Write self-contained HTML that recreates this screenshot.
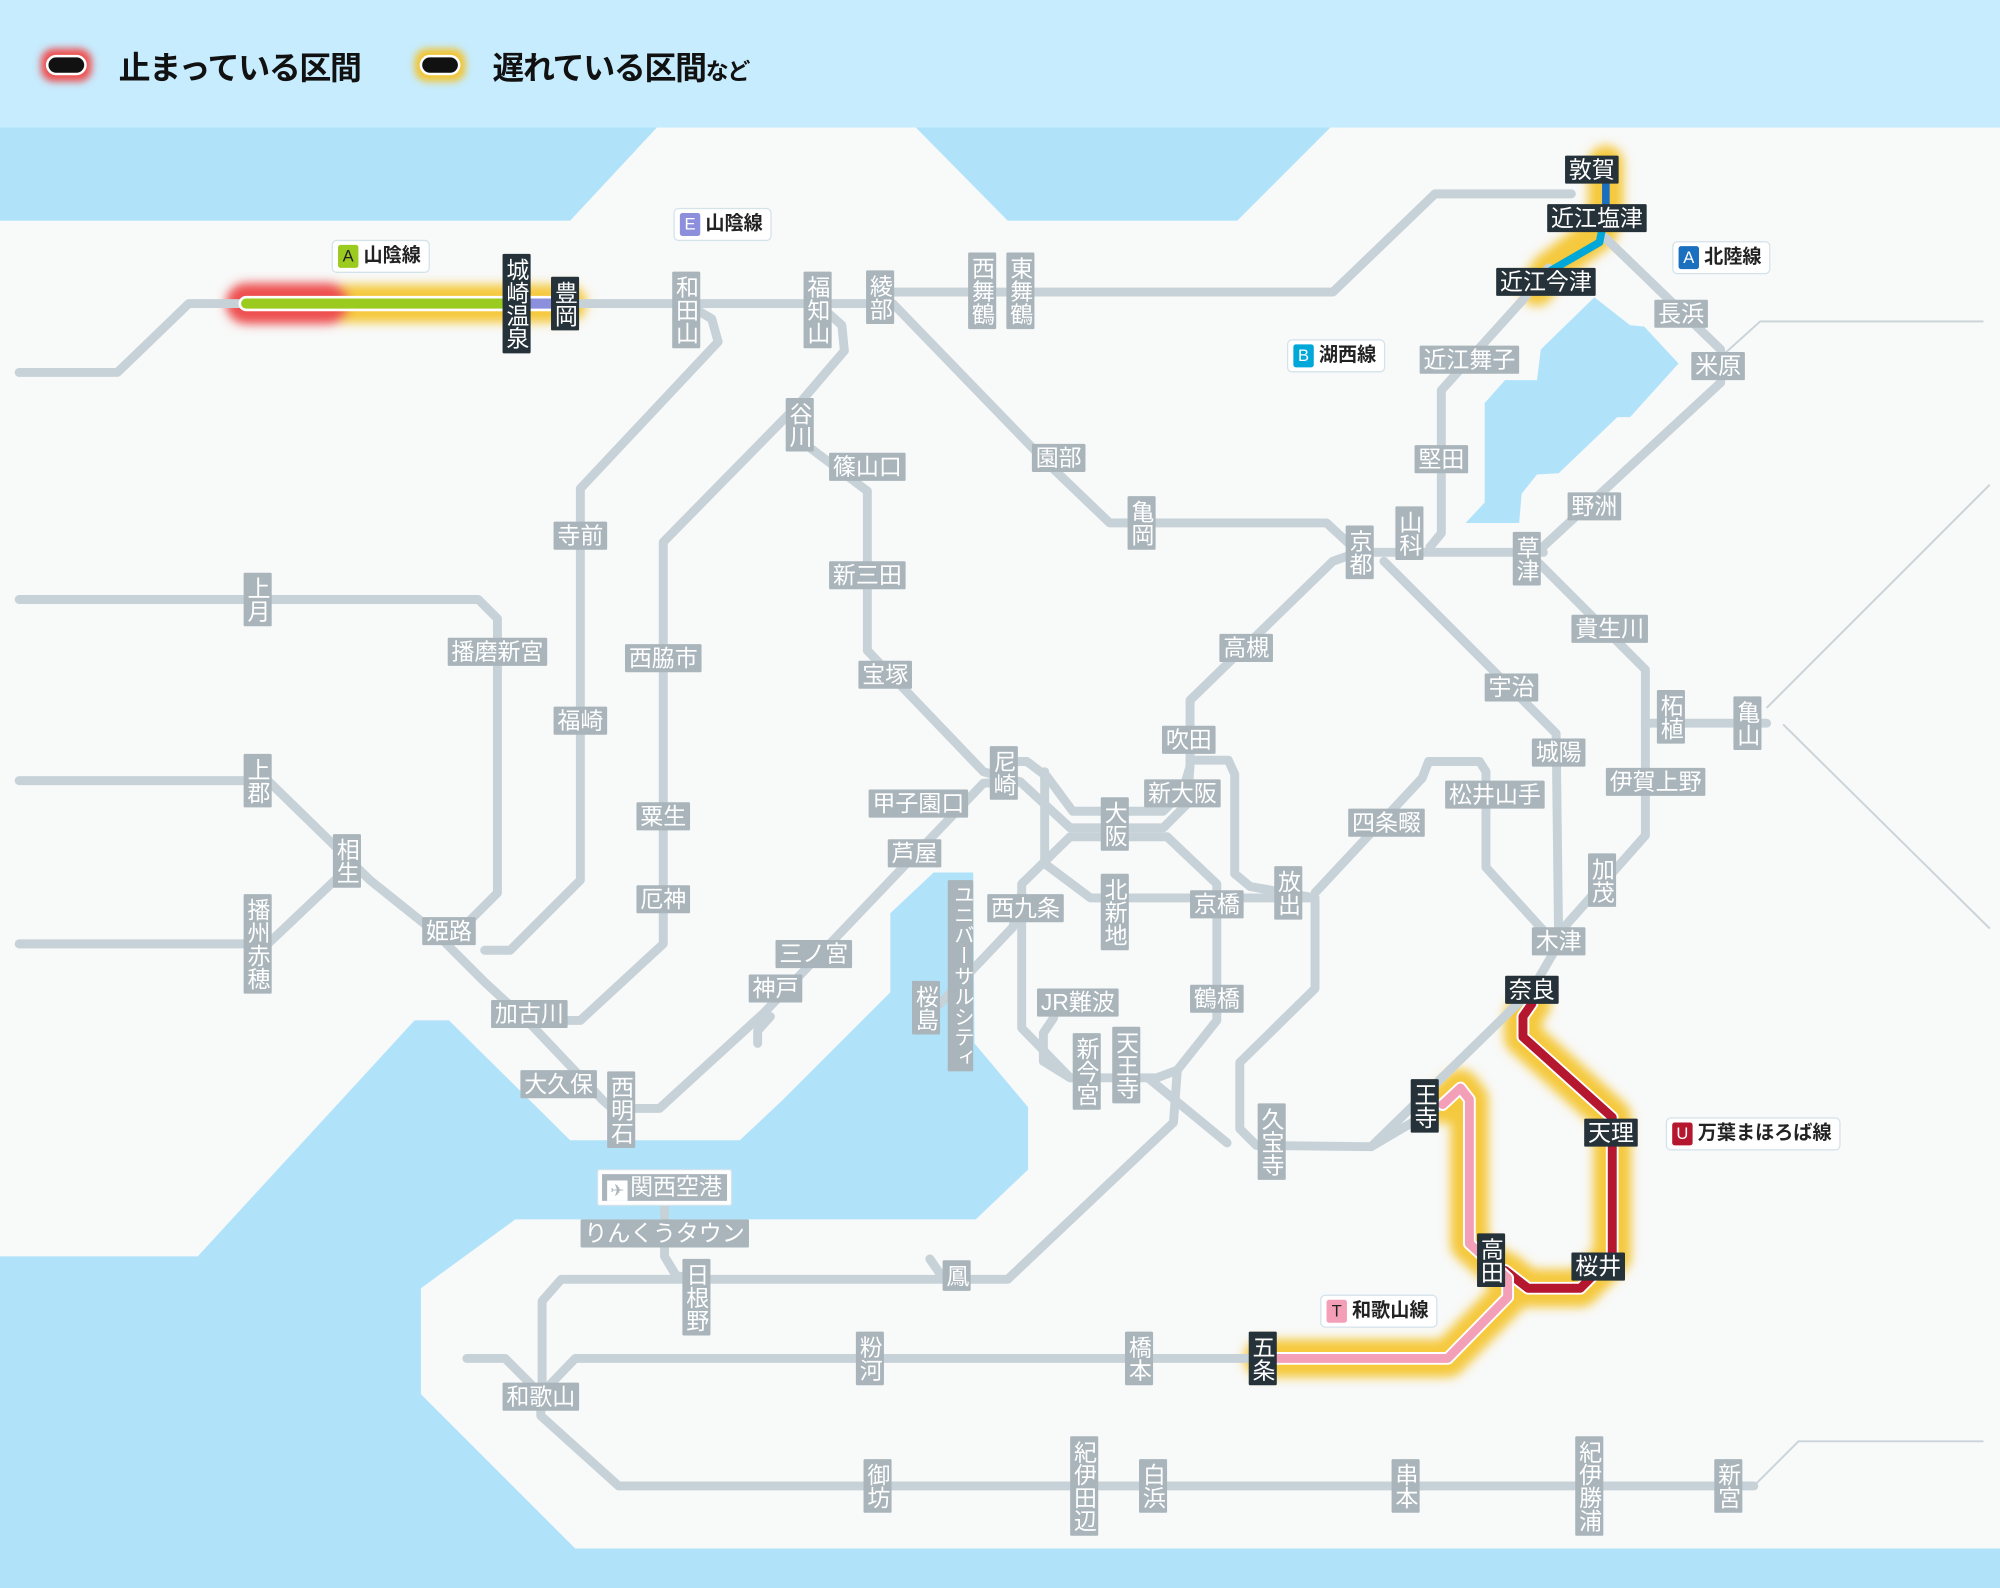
<!DOCTYPE html>
<html><head><meta charset="utf-8">
<style>
html,body{margin:0;padding:0;width:2000px;height:1588px;overflow:hidden;background:#f8f9f9}
#m{position:absolute;left:0;top:0;width:1568px;height:1245px;transform:scale(1.27551);transform-origin:0 0;font-family:"Liberation Sans","Noto Sans CJK JP",sans-serif}
svg{position:absolute;left:0;top:0}
.l{position:absolute;background:#a9b5bb;color:#fff;font-size:18px;line-height:20px;padding:1px 3px;transform:translate(-50%,-50%);white-space:nowrap;border-radius:1px}
.v{writing-mode:vertical-rl;padding:3px 1px;line-height:20px}
.d{background:#26323a}
.b{position:absolute;background:#fff;border:1.5px solid #d4e2ea;border-radius:4px;font-size:15px;font-weight:bold;color:#222;padding:2px 6px 2px 4px;line-height:20px;white-space:nowrap}
.b i{display:inline-block;font-style:normal;color:#fff;width:16px;height:18px;line-height:18px;text-align:center;border-radius:2px;margin-right:4px;font-size:13px;font-weight:normal}
.lg{position:absolute;font-size:25px;font-weight:bold;color:#111;top:34px;letter-spacing:-1px}
</style></head><body>
<div id="m">
<svg width="1568" height="1245" viewBox="0 0 1568 1245">
<defs>
<filter id="bl" x="-20%" y="-20%" width="140%" height="140%"><feGaussianBlur stdDeviation="4"/></filter>
<filter id="bl2" x="-50%" y="-50%" width="200%" height="200%"><feGaussianBlur stdDeviation="3"/></filter>
</defs>
<rect x="0" y="100" width="1568" height="1145" fill="#f8f9f9"/>
<rect x="0" y="0" width="1568" height="100" fill="#c6ecfe"/>
<g fill="#b0e3fa">
<polygon points="0,100 515,100 447,173 0,173"/>
<polygon points="718,100 1043,100 970,173 790,173"/>
<polygon points="0,985 155,985 325,800 352,800 447,894 580,894 614,862 698,778 698,716 732,684 763,684 764,818 806,868 806,917 765,956 404,956 330,1010 330,1093 451,1214 1568,1214 1568,1245 0,1245"/>
<polygon points="1250,233 1278,255 1289,256 1316,285 1278,327 1268,327 1222,371 1205,372 1193,387 1191,410 1149,410 1164,394 1164,316 1180,298 1205,298 1208,274"/>
</g>
<g fill="none" stroke="#c9d3d8" stroke-width="1.5">
<path d="M1349,280 L1380,252 L1555,252"/>
<path d="M1385,555 L1560,380"/>
<path d="M1398,568 L1560,728"/>
<path d="M1375,1165 L1410,1130 L1555,1130"/>
</g>
<g fill="none" stroke-linecap="round" stroke-linejoin="round" filter="url(#bl)">
<path d="M193,238 L445,238" stroke="#f5c93c" stroke-width="30"/>
<path d="M193,238 L258,238" stroke="#ee5050" stroke-width="32"/>
<path d="M1259,128 L1259,162 L1254,182 L1214,212 L1205,226" stroke="#f5c93c" stroke-width="28"/>
<path d="M1201,787 L1194,797 L1194,813 L1264,876 L1264,985 L1239,1010 L1198,1010 L1180,996" stroke="#f5c93c" stroke-width="30"/>
<path d="M990,1065 L1135,1065 L1182,1017 L1182,1002 L1152,975 L1152,862 L1145,853 L1131,866" stroke="#f5c93c" stroke-width="30"/>
</g>
<g fill="none" stroke="#c7d2d8" stroke-width="7" stroke-linejoin="round" stroke-linecap="round">
<path d="M15,292 L92,292 L148,238 L690,238 L700,229 L1045,229 L1125,152 L1232,152"/>
<path d="M700,238 L820,362 L870,410 L1040,410 L1065,433"/>
<path d="M538,238 L558,250 L563,268 L455,383 L455,690 L400,745 L380,745"/>
<path d="M641,238 L660,255 L662,275 L627,316 L520,425 L520,740 L455,800 L415,800"/>
<path d="M627,316 L627,345 L680,385 L680,510 L771,605 L800,613"/>
<path d="M15,470 L375,470 L390,485 L390,700 L360,730"/>
<path d="M15,612 L210,612 L290,690 L340,730 L380,770 L418,805 L473,863 L480,869 L517,869 L599,794 L771,614 L800,613 L839,649 L912,649 L931,630 L933,600"/>
<path d="M787,597 L805,597 L821,609 L841,636 L912,636 L927,621 L933,601 L933,549 L1045,440 L1065,433"/>
<path d="M819,605 L819,677 L855,704 L1031,704 L1031,775 L972,833 L972,885 L985,898 L1075,899 L1201,776 L1222,740"/>
<path d="M839,656 L915,656 L954,693 L954,800 L923,839 L920,880 L790,1003 L440,1003 L425,1020 L425,1093"/>
<path d="M839,656 L801,693 L801,806 L839,845 L907,845 L923,839"/>
<path d="M900,845 L962,896"/>
<path d="M933,596 L963,596 L968,607 L968,685 L980,695 L1031,704"/>
<path d="M1031,700 L1115,610 L1120,597 L1160,597 L1165,605 L1165,680 L1215,735"/>
<path d="M1085,440 L1220,575 L1222,740"/>
<path d="M1065,433 L1210,433"/>
<path d="M1205,433 L1349,300 L1349,274 L1258,186"/>
<path d="M1121,429 L1130,418 L1130,306 L1194,235 L1214,210"/>
<path d="M1205,440 L1280,515 L1290,525 L1290,655 L1228,725"/>
<path d="M1290,567 L1385,567"/>
<path d="M801,700 L794,727 L737,787"/>
<path d="M826,798 L818,810 L818,832 L839,845"/>
<path d="M521,945 L521,985 L530,1000 L546,1003"/>
<path d="M729,987 L740,1003"/>
<path d="M366,1065 L396,1065 L424,1093"/>
<path d="M424,1093 L451,1065 L1135,1065"/>
<path d="M424,1093 L424,1110 L485,1165 L1375,1165"/>
<path d="M604,797 L594,808 L594,818"/>
<path d="M15,740 L210,740 L268,685"/>
<path d="M1075,899 L1131,866"/>
</g>
<g fill="none" stroke-linejoin="round" stroke-linecap="round">
<path d="M193,238 L440,238" stroke="#fff" stroke-width="12"/>
<path d="M193,238 L405,238" stroke="#9ccb1f" stroke-width="8"/>
<path d="M405,238 L440,238" stroke="#8c8fdb" stroke-width="8"/>
<path d="M1259,140 L1259,165" stroke="#1b6fbf" stroke-width="6"/>
<path d="M1256,180 L1254,190 L1216,212" stroke="#00a7d9" stroke-width="6"/>
<path d="M1201,787 L1194,797 L1194,813 L1264,876 L1264,985 L1239,1010 L1198,1010 L1180,996" stroke="#fff" stroke-width="10"/>
<path d="M1201,787 L1194,797 L1194,813 L1264,876 L1264,985 L1239,1010 L1198,1010 L1180,996" stroke="#b5172f" stroke-width="7"/>
<path d="M990,1065 L1135,1065 L1182,1017 L1182,1002 L1152,975 L1152,862 L1145,853 L1131,866" stroke="#fff" stroke-width="10"/>
<path d="M990,1065 L1135,1065 L1182,1017 L1182,1002 L1152,975 L1152,862 L1145,853 L1131,866" stroke="#f49fb8" stroke-width="7"/>
</g>
<rect x="32" y="38" width="40" height="26" rx="10" fill="#ee4f4f" filter="url(#bl2)"/>
<rect x="37" y="44" width="30" height="14" rx="7" fill="#111" stroke="#fff" stroke-width="2"/>
<rect x="325" y="38" width="40" height="26" rx="10" fill="#f3c430" filter="url(#bl2)"/>
<rect x="330" y="44" width="30" height="14" rx="7" fill="#111" stroke="#fff" stroke-width="2"/>
</svg>
<div class="lg" style="left:93px">止まっている区間</div>
<div class="lg" style="left:386px">遅れている区間<span style="font-size:18px">など</span></div>

<div class="b" style="left:260px;top:188px"><i style="background:#9ccb1f;color:#222">A</i>山陰線</div>
<div class="b" style="left:528px;top:163px"><i style="background:#8c8fdb">E</i>山陰線</div>
<div class="b" style="left:1311px;top:189px"><i style="background:#1b6fbf">A</i>北陸線</div>
<div class="b" style="left:1009px;top:266px"><i style="background:#00a7d9">B</i>湖西線</div>
<div class="b" style="left:1306px;top:876px"><i style="background:#b5172f">U</i>万葉まほろば線</div>
<div class="b" style="left:1035px;top:1015px"><i style="background:#f49fb8;color:#222">T</i>和歌山線</div>

<div class="l v d" style="left:405px;top:238px">城崎温泉</div>
<div class="l v d" style="left:443px;top:238px">豊岡</div>
<div class="l v" style="left:538px;top:243px">和田山</div>
<div class="l v" style="left:641px;top:243px">福知山</div>
<div class="l v" style="left:690px;top:233px">綾部</div>
<div class="l v" style="left:770px;top:228px">西舞鶴</div>
<div class="l v" style="left:800px;top:228px">東舞鶴</div>
<div class="l v" style="left:627px;top:333px">谷川</div>
<div class="l" style="left:680px;top:366px">篠山口</div>
<div class="l" style="left:680px;top:451px">新三田</div>
<div class="l" style="left:694px;top:529px">宝塚</div>
<div class="l v" style="left:787px;top:606px">尼崎</div>
<div class="l" style="left:720px;top:630px">甲子園口</div>
<div class="l" style="left:717px;top:669px">芦屋</div>
<div class="l" style="left:638px;top:748px">三ノ宮</div>
<div class="l" style="left:608px;top:775px">神戸</div>
<div class="l" style="left:830px;top:359px">園部</div>
<div class="l v" style="left:895px;top:410px">亀岡</div>
<div class="l v" style="left:1066px;top:433px">京都</div>
<div class="l v" style="left:1105px;top:418px">山科</div>
<div class="l v" style="left:1197px;top:438px">草津</div>
<div class="l" style="left:1250px;top:397px">野洲</div>
<div class="l" style="left:1130px;top:360px">堅田</div>
<div class="l" style="left:1152px;top:282px">近江舞子</div>
<div class="l" style="left:1318px;top:246px">長浜</div>
<div class="l" style="left:1347px;top:287px">米原</div>
<div class="l d" style="left:1212px;top:221px">近江今津</div>
<div class="l d" style="left:1252px;top:171px">近江塩津</div>
<div class="l d" style="left:1248px;top:133px">敦賀</div>
<div class="l" style="left:977px;top:508px">高槻</div>
<div class="l" style="left:932px;top:580px">吹田</div>
<div class="l" style="left:927px;top:622px">新大阪</div>
<div class="l v" style="left:874px;top:646px">大阪</div>
<div class="l v" style="left:874px;top:715px">北新地</div>
<div class="l" style="left:954px;top:709px">京橋</div>
<div class="l v" style="left:1010px;top:700px">放出</div>
<div class="l" style="left:1087px;top:645px">四条畷</div>
<div class="l" style="left:1172px;top:623px">松井山手</div>
<div class="l" style="left:1185px;top:539px">宇治</div>
<div class="l" style="left:1222px;top:590px">城陽</div>
<div class="l" style="left:1262px;top:493px">貴生川</div>
<div class="l v" style="left:1310px;top:562px">柘植</div>
<div class="l v" style="left:1370px;top:567px">亀山</div>
<div class="l" style="left:1298px;top:613px">伊賀上野</div>
<div class="l v" style="left:1256px;top:690px">加茂</div>
<div class="l" style="left:1222px;top:738px">木津</div>
<div class="l d" style="left:1201px;top:776px">奈良</div>
<div class="l d" style="left:1263px;top:888px">天理</div>
<div class="l d" style="left:1253px;top:993px">桜井</div>
<div class="l v d" style="left:1169px;top:988px">高田</div>
<div class="l v d" style="left:1117px;top:867px">王寺</div>
<div class="l v d" style="left:990px;top:1065px">五条</div>
<div class="l" style="left:804px;top:712px">西九条</div>
<div class="l v" style="left:753px;top:765px;font-size:16px;line-height:18px">ユニバーサルシティ</div>
<div class="l v" style="left:726px;top:790px">桜島</div>
<div class="l" style="left:845px;top:786px">JR難波</div>
<div class="l v" style="left:852px;top:840px">新今宮</div>
<div class="l v" style="left:883px;top:835px">天王寺</div>
<div class="l" style="left:954px;top:783px">鶴橋</div>
<div class="l v" style="left:997px;top:895px">久宝寺</div>
<div class="l" style="left:455px;top:420px">寺前</div>
<div class="l" style="left:390px;top:511px">播磨新宮</div>
<div class="l" style="left:455px;top:565px">福崎</div>
<div class="l" style="left:520px;top:516px">西脇市</div>
<div class="l" style="left:520px;top:640px">粟生</div>
<div class="l" style="left:520px;top:705px">厄神</div>
<div class="l v" style="left:202px;top:470px">上月</div>
<div class="l v" style="left:202px;top:612px">上郡</div>
<div class="l v" style="left:272px;top:675px">相生</div>
<div class="l v" style="left:202px;top:740px">播州赤穂</div>
<div class="l" style="left:352px;top:730px">姫路</div>
<div class="l" style="left:415px;top:795px">加古川</div>
<div class="l" style="left:438px;top:850px">大久保</div>
<div class="l v" style="left:487px;top:870px">西明石</div>
<div class="l" style="left:521px;top:931px;border:3px solid #fff;box-shadow:0 0 0 1px #d4e2ea;padding:0 4px"><span style="display:inline-block;background:#fff;color:#a9b5bb;width:16px;height:16px;line-height:16px;text-align:center;font-size:13px;margin-right:2px;vertical-align:-1px">✈</span>関西空港</div>
<div class="l" style="left:521px;top:967px">りんくうタウン</div>
<div class="l v" style="left:546px;top:1017px">日根野</div>
<div class="l v" style="left:750px;top:1000px">鳳</div>
<div class="l" style="left:424px;top:1095px">和歌山</div>
<div class="l v" style="left:682px;top:1065px">粉河</div>
<div class="l v" style="left:893px;top:1065px">橋本</div>
<div class="l v" style="left:688px;top:1165px">御坊</div>
<div class="l v" style="left:850px;top:1165px">紀伊田辺</div>
<div class="l v" style="left:904px;top:1165px">白浜</div>
<div class="l v" style="left:1102px;top:1165px">串本</div>
<div class="l v" style="left:1246px;top:1165px">紀伊勝浦</div>
<div class="l v" style="left:1355px;top:1165px">新宮</div>
</div>
</body></html>
